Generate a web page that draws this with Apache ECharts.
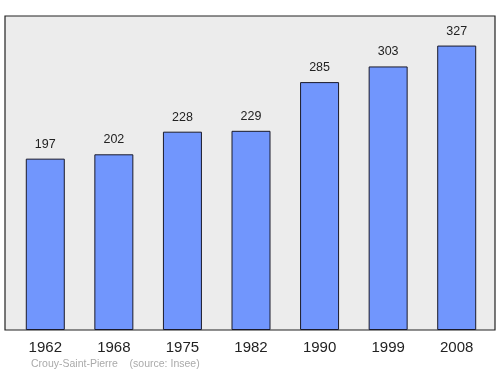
<!DOCTYPE html>
<html><head><meta charset="utf-8">
<script src="https://cdn.jsdelivr.net/npm/echarts@6/dist/echarts.min.js"></script>
<style>html,body{margin:0;padding:0;background:#fff}#c{width:500px;height:374px}</style>
</head><body><div id="c"></div>
<script>
const categories = ['1962','1968','1975','1982','1990','1999','2008'];
const population = [197,202,228,229,285,303,327];
const footer = 'Crouy-Saint-Pierre    (source: Insee)';

const chart = echarts.init(document.getElementById('c'), null, {renderer:'canvas'});
chart.setOption({
  animation:false,
  backgroundColor:'#ffffff',
  textStyle:{fontFamily:'"Liberation Sans", Arial, sans-serif'},
  title:{text:footer,left:26,top:354,textStyle:{fontSize:10.5,fontWeight:'normal',color:'#aaaaaa',fontFamily:'"Liberation Sans", Arial, sans-serif'}},
  grid:[
    {left:5,right:5,top:16,bottom:44,show:true,backgroundColor:'#ececec',borderColor:'#222',borderWidth:1.2},
    {left:11,right:9,top:16,bottom:44}
  ],
  xAxis:[
    {gridIndex:0,type:'value',show:false,min:0,max:1},
    {gridIndex:1,type:'category',data:categories,axisLine:{show:false},axisTick:{show:false},
     axisLabel:{fontSize:15,color:'#222',margin:10,fontFamily:'"Liberation Sans", Arial, sans-serif'}}
  ],
  yAxis:[
    {gridIndex:0,type:'value',show:false,min:0,max:1},
    {gridIndex:1,type:'value',min:0,max:361,show:false,splitLine:{show:false}}
  ],
  series:[{
    type:'bar',xAxisIndex:1,yAxisIndex:1,data:population,barWidth:39,
    itemStyle:{color:'#7196fd',borderColor:'#1a1a2a',borderWidth:1},
    label:{show:true,position:'top',distance:8,fontSize:12.5,color:'#222',fontFamily:'"Liberation Sans", Arial, sans-serif'}
  }]
});
</script></body></html>
